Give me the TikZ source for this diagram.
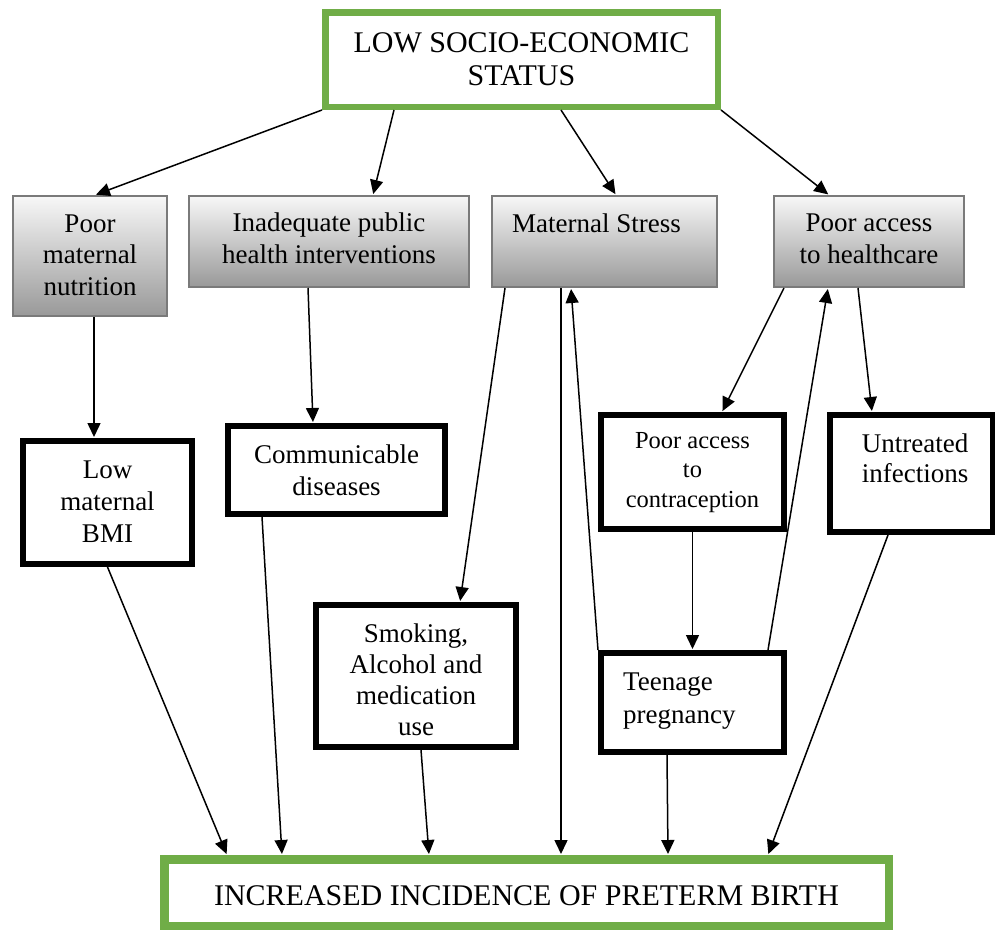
\documentclass[tikz,border=0pt]{standalone}
\usepackage{fontspec}
\setmainfont{Liberation Serif}
\usetikzlibrary{arrows.meta}
\definecolor{ogreen}{HTML}{70AD47}
\definecolor{bgray}{HTML}{7A7A7A}
\newcommand\myfs[2]{\fontsize{#1}{#2}\selectfont}
\begin{document}
\begin{tikzpicture}[x=1pt,y=-1pt,
  greenbox/.style={draw=ogreen,line width=6.5pt,fill=white,inner sep=0,rectangle},
  gradbox/.style={draw=bgray,line width=2pt,top color=black!3,bottom color=black!40,inner sep=0,rectangle},
  blackbox/.style={draw=black,line width=6pt,fill=white,inner sep=0,rectangle},
  txt/.style={inner sep=0,align=center,anchor=base,font=\myfs{27}{31.5}},
  arr/.style={line width=1.5pt,-{Triangle[length=14pt,width=13pt]},shorten >=1pt}
]
\useasboundingbox (0,0) rectangle (995,930);
% boxes
\node[greenbox,minimum width=392.5pt,minimum height=94.5pt] (top) at (521.5,59.5) {};
\node[gradbox,minimum width=154pt,minimum height=120pt] (nutr) at (90,256) {};
\node[gradbox,minimum width=280pt,minimum height=91pt] (inad) at (329,241.5) {};
\node[gradbox,minimum width=225pt,minimum height=91pt] (ms) at (604.5,241.5) {};
\node[gradbox,minimum width=190pt,minimum height=91pt] (pah) at (869,241.5) {};
\node[blackbox,minimum width=169pt,minimum height=123pt] (bmi) at (107.5,502.5) {};
\node[blackbox,minimum width=217pt,minimum height=88pt] (comm) at (336.5,470) {};
\node[blackbox,minimum width=200pt,minimum height=142pt] (smk) at (416,676) {};
\node[blackbox,minimum width=183pt,minimum height=114pt] (pac) at (692.5,472) {};
\node[blackbox,minimum width=163pt,minimum height=117pt] (unt) at (911.5,473.5) {};
\node[blackbox,minimum width=183pt,minimum height=99pt] (teen) at (692.5,702.5) {};
\node[draw=ogreen,line width=7pt,fill=white,inner sep=0,minimum width=726pt,minimum height=68pt] (birth) at (526.5,892.5) {};
\draw[ogreen,line width=2pt] ([shift={(7.5,7.5)}]birth.north west) rectangle ([shift={(-7.5,-7.5)}]birth.south east);
% texts (anchor = baseline of the last line)
\node[txt,font=\myfs{30}{33}] (toptxt) at (521.5,85) {LOW SOCIO-ECONOMIC\\STATUS};
\node[txt] (nutrtxt) at (90,295) {Poor\\maternal\\nutrition};
\node[txt] (inadtxt) at (329,263) {Inadequate public\\health interventions};
\node[txt,anchor=base west] (mstxt) at (512,232) {Maternal Stress};
\node[txt] (pahtxt) at (869,263) {Poor access\\to healthcare};
\node[txt,font=\myfs{27}{32}] (bmitxt) at (107.5,542) {Low\\maternal\\BMI};
\node[txt,font=\myfs{27}{32}] (commtxt) at (336.5,495) {Communicable\\diseases};
\node[txt,font=\myfs{27}{31}] (smktxt) at (416,735) {Smoking,\\Alcohol and\\medication\\use};
\node[txt,font=\myfs{24.5}{29.5}] (pactxt) at (692.5,507) {Poor access\\to\\contraception};
\node[txt,font=\myfs{27}{30}] (unttxt) at (915,482) {Untreated\\infections};
\node[txt,anchor=base west,align=left,font=\myfs{27}{33}] (teentxt) at (623,723) {Teenage\\pregnancy};
\node[txt,font=\myfs{30}{33}] (birthtxt) at (526.5,905) {INCREASED INCIDENCE OF PRETERM BIRTH};
% connectors
\draw[arr] (top.south west) -- ([xshift=5pt]nutr.north);
\draw[arr] ([xshift=-127.5pt]top.south) -- ([xshift=44pt]inad.north);
\draw[arr] ([xshift=39.5pt]top.south) -- ([xshift=11.5pt]ms.north);
\draw[arr] (top.south east) -- ([xshift=-40pt]pah.north);
\draw[arr] ([xshift=4pt]nutr.south) -- ([xshift=-13.5pt]bmi.north);
\draw[arr] ([xshift=-21pt]inad.south) -- ([xshift=-23.5pt]comm.north);
\draw[arr] ([xshift=-99.5pt]ms.south) -- ([xshift=44pt]smk.north);
\draw[arr] ([xshift=-43.5pt]ms.south) -- ([xshift=34.5pt]birth.north);
\draw[arr] (teen.north west) -- ([xshift=-33.5pt]ms.south);
\draw[arr] ([xshift=-85pt]pah.south) -- ([xshift=29.5pt]pac.north);
\draw[arr] ([xshift=75.5pt]teen.north) -- ([xshift=-41pt]pah.south);
\draw[arr] ([xshift=-11pt]pah.south) -- ([xshift=-39.5pt]unt.north);
\draw[arr] (pac.south) -- (teen.north);
\draw[arr] (bmi.south) -- ([xshift=-299.5pt]birth.north);
\draw[arr] ([xshift=-74.5pt]comm.south) -- ([xshift=-244.5pt]birth.north);
\draw[arr] ([xshift=5pt]smk.south) -- ([xshift=-97.5pt]birth.north);
\draw[arr] ([xshift=-25.5pt]teen.south) -- ([xshift=141.5pt]birth.north);
\draw[arr] ([xshift=-23.5pt]unt.south) -- ([xshift=241.5pt]birth.north);
\end{tikzpicture}
\end{document}
